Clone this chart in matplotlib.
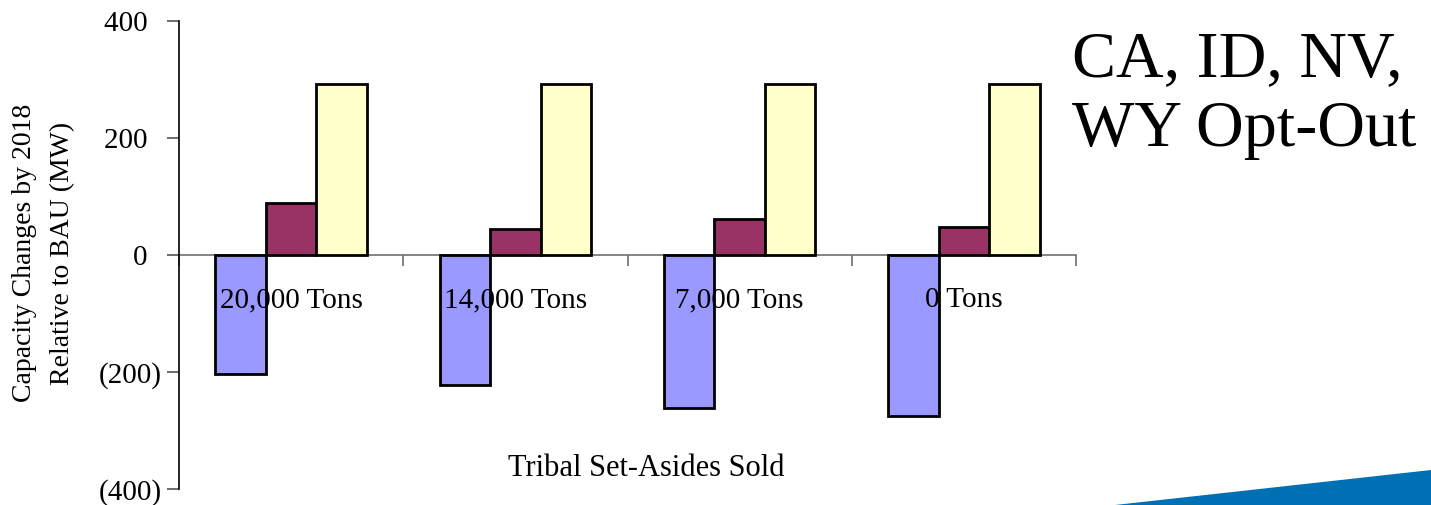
import matplotlib
matplotlib.use("Agg")
import matplotlib.pyplot as plt
import numpy as np
from matplotlib.patches import Polygon

categories = ["20,000 Tons", "14,000 Tons", "7,000 Tons", "0 Tons"]
series_blue = [-203, -223, -262, -275]
series_red = [89, 44, 61, 48]
series_yellow = [292, 292, 292, 292]
ytick_vals = [-400, -200, 0, 200, 400]
ytick_labels = ["(400)", "(200)", "0  ", "200  ", "400  "]

plt.rcParams['font.family'] = ['Liberation Serif', 'DejaVu Serif']

fig = plt.figure(figsize=(14.31, 5.05), dpi=100)
ax = fig.add_axes([179/1431, 1-489/505, (1076-179)/1431, (489-21)/505])

x = np.arange(len(categories))
w = 0.225
ec = "black"
lw = 2.0
ax.bar(x - w, series_blue, w, color="#9999ff", edgecolor=ec, linewidth=lw, zorder=3)
ax.bar(x, series_red, w, color="#993366", edgecolor=ec, linewidth=lw, zorder=3)
ax.bar(x + w, series_yellow, w, color="#ffffcc", edgecolor=ec, linewidth=lw, zorder=3)

ax.set_xlim(-0.5, len(categories) - 0.5)
ax.set_ylim(-400, 400)

for s in ["top", "right"]:
    ax.spines[s].set_visible(False)
ax.spines["bottom"].set_position(("data", 0))
ax.spines["bottom"].set_color("#707070")
ax.spines["bottom"].set_linewidth(1.2)
ax.spines["bottom"].set_zorder(2)
ax.spines["left"].set_color("black")
ax.spines["left"].set_linewidth(1.2)

ax.set_yticks(ytick_vals)
ax.set_yticklabels(ytick_labels, fontsize=21)
ax.tick_params(axis="y", direction="out", length=9, width=1.2, color="#555555", pad=3.5)

ax.set_xticks(x)
ax.set_xticklabels([])
ax.tick_params(axis="x", which="major", length=0)
ax.set_xticks(np.arange(-0.5, len(categories), 1.0), minor=True)
ax.tick_params(axis="x", which="minor", direction="out", length=8, width=1.2, color="#707070")

# category labels drawn over the bars
y_lab = -(300 - 255) / 0.585
for xi, lab in zip(x, categories):
    ax.text(xi, y_lab, lab, fontsize=21, ha="center", va="center", zorder=10)

fig.text(25/1431, 1-253/505, "Capacity Changes by 2018", fontsize=20, rotation=90,
         ha="center", va="center")
fig.text(63/1431, 1-253/505, "Relative to BAU (MW)", fontsize=20, rotation=90,
         ha="center", va="center")

fig.text(646/1431, 1-468/505, "Tribal Set-Asides Sold", fontsize=22, ha="center", va="center")

fig.text(1072/1431, 1-60/505, "CA, ID, NV,", fontsize=47.5, ha="left", va="center")
fig.text(1072/1431, 1-130/505, "WY Opt-Out", fontsize=47.5, ha="left", va="center")

tri = Polygon([[1115/1431, 0], [1.0, 1-470/505], [1.0, 0]], closed=True,
              transform=fig.transFigure, facecolor="#0070b5", edgecolor="none")
fig.patches.append(tri)

fig.savefig("out.png", dpi=100)
